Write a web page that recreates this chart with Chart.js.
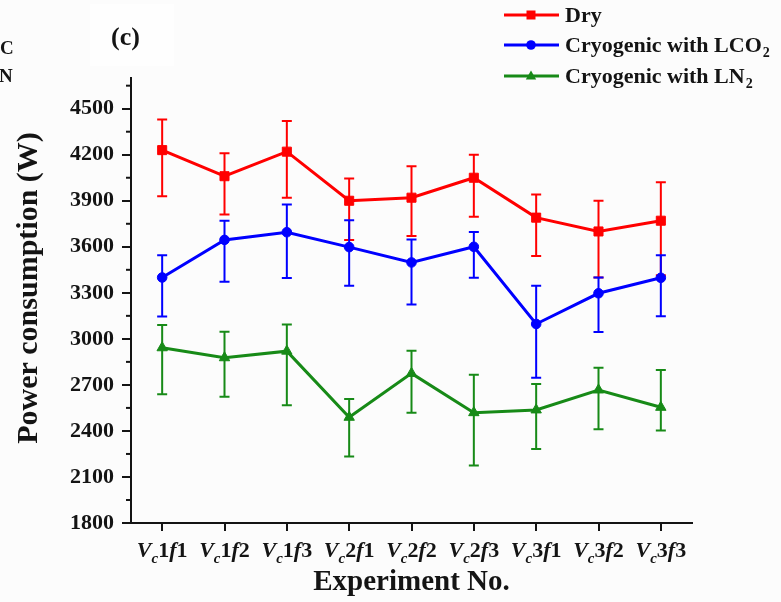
<!DOCTYPE html>
<html>
<head>
<meta charset="utf-8">
<title>Power consumption</title>
<script src="https://cdn.jsdelivr.net/npm/chart.js@4.4.1/dist/chart.umd.min.js"></script>
<style>
  body { margin: 0; background: #fcfcfc; }
  #wrap { position: relative; width: 781px; height: 602px; }
</style>
</head>
<body>
<div id="wrap"><canvas id="powerChart" width="781" height="602"></canvas></div>
<script>
// experiment codes: V, sub c, speed level, f, feed level
const experiments = ['Vc1f1', 'Vc1f2', 'Vc1f3', 'Vc2f1', 'Vc2f2', 'Vc2f3', 'Vc3f1', 'Vc3f2', 'Vc3f3'];

const dry = [4230, 4060, 4220, 3900, 3920, 4050, 3790, 3700, 3770];
const dryHigh = [4430, 4210, 4420, 4045, 4125, 4200, 3940, 3900, 4020];
const dryLow = [3930, 3810, 3920, 3645, 3670, 3795, 3540, 3400, 3415];

const lco2 = [3400, 3645, 3695, 3598, 3498, 3600, 3097, 3297, 3398];
const lco2High = [3545, 3770, 3875, 3773, 3647, 3697, 3346, 3400, 3545];
const lco2Low = [3145, 3372, 3396, 3346, 3224, 3398, 2747, 3044, 3148];

const ln2 = [2942, 2877, 2920, 2489, 2775, 2519, 2537, 2667, 2554];
const ln2High = [3090, 3046, 3094, 2608, 2922, 2766, 2706, 2812, 2797];
const ln2Low = [2639, 2623, 2567, 2233, 2519, 2174, 2283, 2411, 2402];

const yTicks = [1800, 2100, 2400, 2700, 3000, 3300, 3600, 3900, 4200, 4500];
const yMinorTicks = [1950, 2250, 2550, 2850, 3150, 3450, 3750, 4050, 4350, 4650];

const seriesNames = ['Dry', 'Cryogenic with LCO', 'Cryogenic with LN'];
const seriesSubs = ['', '2', '2'];

const serif = "'Liberation Serif', 'Times New Roman', serif";
const ink = '#141414';

function makeSet(i, data, high, low, color, style, radius) {
  return {
    label: seriesNames[i] + (seriesSubs[i] ? '\u2082' : ''),
    data: data,
    errHigh: high,
    errLow: low,
    subText: seriesSubs[i],
    borderColor: color,
    backgroundColor: color,
    borderWidth: 3,
    pointStyle: style,
    pointRadius: radius,
    pointBorderWidth: 1,
    tension: 0,
    fill: false,
    order: 3 - i
  };
}

function drawMarker(ctx, style, x, y, color) {
  ctx.fillStyle = color;
  ctx.beginPath();
  if (style === 'rect') {
    ctx.rect(x - 4.5, y - 4.5, 9, 9);
  } else if (style === 'circle') {
    ctx.arc(x, y, 4.8, 0, Math.PI * 2);
  } else {
    ctx.moveTo(x, y - 5.5);
    ctx.lineTo(x + 5.2, y + 3.5);
    ctx.lineTo(x - 5.2, y + 3.5);
    ctx.closePath();
  }
  ctx.fill();
}

function drawErrorBars(chart) {
  const ctx = chart.ctx;
  const y = chart.scales.y;
  chart.data.datasets.forEach((ds, i) => {
    const meta = chart.getDatasetMeta(i);
    ctx.save();
    ctx.strokeStyle = ds.borderColor;
    ctx.lineWidth = 2;
    meta.data.forEach((pt, j) => {
      const top = y.getPixelForValue(ds.errHigh[j]);
      const bot = y.getPixelForValue(ds.errLow[j]);
      ctx.beginPath();
      ctx.moveTo(pt.x, top); ctx.lineTo(pt.x, bot);
      ctx.moveTo(pt.x - 5, top); ctx.lineTo(pt.x + 5, top);
      ctx.moveTo(pt.x - 5, bot); ctx.lineTo(pt.x + 5, bot);
      ctx.stroke();
    });
    ctx.restore();
  });
}

function drawXLabels(chart) {
  const ctx = chart.ctx;
  const xs = chart.scales.x;
  const base = 557;
  ctx.save();
  ctx.fillStyle = ink;
  ctx.textBaseline = 'alphabetic';
  ctx.textAlign = 'left';
  experiments.forEach((code, i) => {
    // pieces: V (italic), c (italic subscript), digit, f (italic), digit
    const parts = [
      { t: code[0], f: `italic bold 22px ${serif}`, dy: 0 },
      { t: code[1], f: `italic bold 15px ${serif}`, dy: 6 },
      { t: code[2], f: `bold 22px ${serif}`, dy: 0 },
      { t: code[3], f: `italic bold 22px ${serif}`, dy: 0 },
      { t: code[4], f: `bold 22px ${serif}`, dy: 0 }
    ];
    let total = 0;
    parts.forEach(p => { ctx.font = p.f; p.w = ctx.measureText(p.t).width; total += p.w; });
    let x = xs.getPixelForValue(i) - total / 2;
    parts.forEach(p => {
      ctx.font = p.f;
      ctx.fillText(p.t, x, base + p.dy);
      x += p.w;
    });
  });
  ctx.restore();
}

function drawLegend(chart) {
  const ctx = chart.ctx;
  const rows = [15, 45, 76];
  ctx.save();
  chart.data.datasets.forEach((ds, i) => {
    const y = rows[i];
    ctx.strokeStyle = ds.borderColor;
    ctx.lineWidth = 3;
    ctx.beginPath();
    ctx.moveTo(504, y); ctx.lineTo(559, y);
    ctx.stroke();
    drawMarker(ctx, ds.pointStyle, 531, y, ds.borderColor);

    ctx.fillStyle = ink;
    ctx.textBaseline = 'middle';
    ctx.textAlign = 'left';
    ctx.font = `bold 22px ${serif}`;
    ctx.fillText(seriesNames[i], 565, y + 1);
    if (ds.subText) {
      const w = ctx.measureText(seriesNames[i]).width;
      ctx.font = `bold 14px ${serif}`;
      ctx.fillText(ds.subText, 565 + w + 1, y + 8);
    }
  });
  ctx.restore();
}

function drawExtras(chart) {
  const ctx = chart.ctx;
  const ys = chart.scales.y;
  const left = chart.chartArea.left;

  // minor ticks on the y axis
  ctx.save();
  ctx.strokeStyle = ink;
  ctx.lineWidth = 2;
  yMinorTicks.forEach(v => {
    const py = ys.getPixelForValue(v);
    ctx.beginPath();
    ctx.moveTo(left - 5, py); ctx.lineTo(left, py);
    ctx.stroke();
  });

  // y title
  ctx.fillStyle = ink;
  ctx.font = `bold 30px ${serif}`;
  ctx.textAlign = 'center';
  ctx.textBaseline = 'middle';
  ctx.translate(29, 288);
  ctx.rotate(-Math.PI / 2);
  ctx.fillText('Power consumption (W)', 0, 0);
  ctx.restore();

  // panel label and cut-off text at the left edge
  ctx.save();
  ctx.fillStyle = '#fefefe';
  ctx.fillRect(90, 4, 84, 62);
  ctx.fillStyle = ink;
  ctx.textBaseline = 'middle';
  ctx.textAlign = 'left';
  ctx.font = `bold 26px ${serif}`;
  ctx.fillText('(c)', 111, 38);
  ctx.font = `bold 19px ${serif}`;
  ctx.fillText('C', 0, 49);
  ctx.fillText('N', -1, 77);
  ctx.restore();
}

const extrasPlugin = {
  id: 'extras',
  beforeDatasetsDraw(chart) { drawErrorBars(chart); },
  afterDraw(chart) {
    drawXLabels(chart);
    drawLegend(chart);
    drawExtras(chart);
  }
};

const ctx = document.getElementById('powerChart').getContext('2d');
new Chart(ctx, {
  type: 'line',
  data: {
    labels: experiments,
    datasets: [
      makeSet(0, dry, dryHigh, dryLow, '#ff0000', 'rect', 6.4),
      makeSet(1, lco2, lco2High, lco2Low, '#0000ff', 'circle', 4.8),
      makeSet(2, ln2, ln2High, ln2Low, '#178a17', 'triangle', 6)
    ]
  },
  options: {
    responsive: false,
    animation: false,
    events: [],
    layout: { padding: { top: 78, right: 89, left: 0, bottom: 0 } },
    plugins: {
      legend: { display: false },
      tooltip: { enabled: false }
    },
    scales: {
      x: {
        type: 'category',
        offset: true,
        grid: { drawOnChartArea: false, drawTicks: true, tickLength: 8, color: ink, lineWidth: 2, offset: false },
        border: { display: true, color: ink, width: 2 },
        ticks: { color: 'rgba(0,0,0,0)', font: { size: 21 } },
        title: {
          display: true,
          text: 'Experiment No.',
          color: ink,
          font: { family: serif, size: 29, weight: 'bold' },
          padding: { top: 0, bottom: 2 }
        },
        afterFit(scale) { scale.height = 79; }
      },
      y: {
        min: 1800,
        max: 4700,
        bounds: 'data',
        afterBuildTicks(scale) { scale.ticks = yTicks.map(v => ({ value: v })); },
        grid: { drawOnChartArea: false, drawTicks: true, tickLength: 9, color: ink, lineWidth: 2 },
        border: { display: true, color: ink, width: 2 },
        ticks: {
          color: ink,
          padding: 8,
          font: { family: serif, size: 22, weight: 'bold' },
          callback: value => String(value)
        },
        afterFit(scale) { scale.width = 131; }
      }
    }
  },
  plugins: [extrasPlugin]
});
</script>
</body>
</html>
